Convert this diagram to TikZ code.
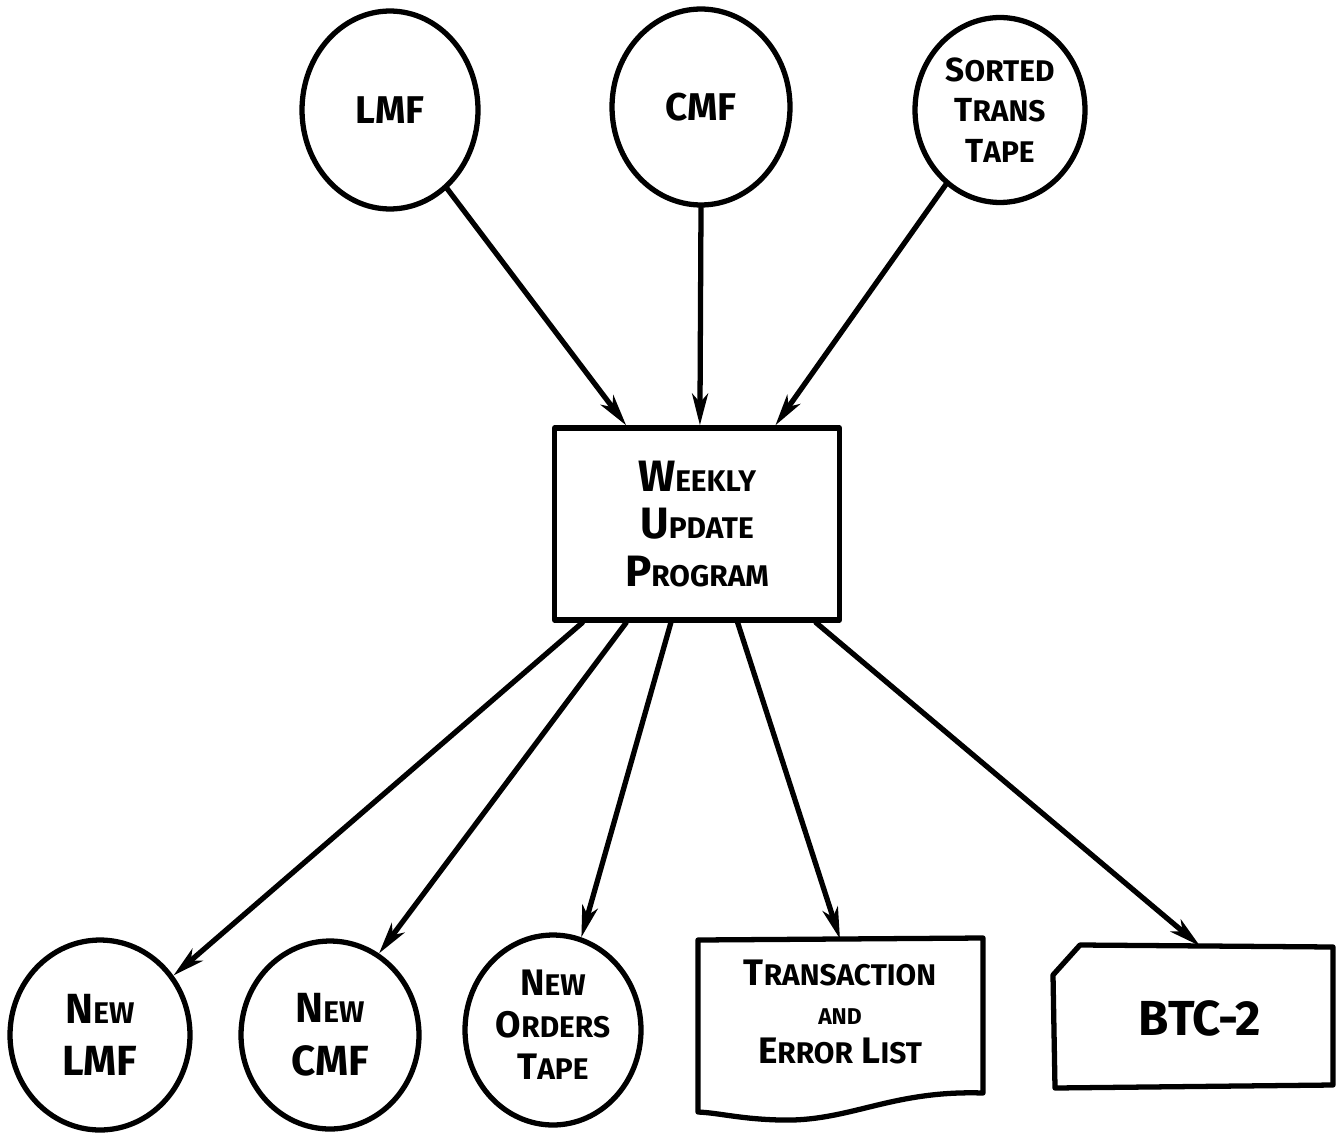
\documentclass[tikz,border=0pt]{standalone}
\usepackage{fontspec}
\setmainfont{Fira Sans}
\usetikzlibrary{shapes.geometric,arrows.meta,calc}
% smaller capitals after a large initial
\newcommand\lc[1]{{\fontsize{17pt}{20pt}\selectfont #1}}
\begin{document}
\begin{tikzpicture}[x=0.02cm,y=-0.02cm,
  ink/.style={line width=3pt,line join=round,line cap=round},
  file/.style={ink,draw,ellipse,inner sep=0pt},
  lbl/.style={font=\bfseries\fontsize{22pt}{26pt}\selectfont,align=center},
  flow/.style={ink,-{Stealth[length=18pt,width=9pt,inset=5pt]}}]
\useasboundingbox (0,0) rectangle (1338,1135);

% input files
\node[file,minimum width=3.52cm,minimum height=3.96cm] (lmf) at (390,110) {};
\node[file,minimum width=3.56cm,minimum height=3.92cm] (cmf) at (701,107) {};
\node[file,minimum width=3.40cm,minimum height=3.70cm] (stt) at (1000,110) {};
\node[lbl] at (lmf) {LMF};
\node[lbl] at (cmf) {CMF};
\node[lbl,font=\bfseries\fontsize{19pt}{23pt}\selectfont] at (stt) {S\lc{ORTED}\\T\lc{RANS}\\T\lc{APE}};

% update program
\node[ink,draw,minimum width=5.7cm,minimum height=3.84cm] (box) at (697,524) {};
\node[lbl,font=\bfseries\fontsize{25pt}{27pt}\selectfont] at (box) {W\lc{EEKLY}\\U\lc{PDATE}\\P\lc{ROGRAM}};

% output files
\node[file,minimum width=3.60cm,minimum height=3.80cm] (nlmf) at (100,1035) {};
\node[file,minimum width=3.56cm,minimum height=3.76cm] (ncmf) at (330,1035) {};
\node[file,minimum width=3.52cm,minimum height=3.80cm] (nord) at (553,1030) {};
\node[lbl,font=\bfseries\fontsize{24pt}{30pt}\selectfont] at (nlmf) {N\lc{EW}\\LMF};
\node[lbl,font=\bfseries\fontsize{24pt}{30pt}\selectfont] at (ncmf) {N\lc{EW}\\CMF};
\node[lbl,font=\bfseries\fontsize{21pt}{24pt}\selectfont] at (553,1025) {N\lc{EW}\\O\lc{RDERS}\\T\lc{APE}};

% printed report
\draw[ink] (698,940) -- (983,938) -- (983,1093)
  .. controls (890,1090) and (850,1122) .. (780,1120)
  .. controls (740,1119) and (720,1113) .. (698,1112) -- cycle;
\coordinate (doctop) at (840,939);
\node[lbl,font=\bfseries\fontsize{21pt}{22pt}\selectfont] (doc) at (840,1012)
  {T\lc{RANSACTION}\\{\fontsize{13pt}{14pt}\selectfont AND}\\E\lc{RROR} L\lc{IST}};

% punched card
\draw[ink] (1053,975) -- (1080,945) -- (1333,947) -- (1333,1085) -- (1055,1088) -- cycle;
\coordinate (cardtop) at (1200,946);
\node[lbl,font=\bfseries\fontsize{28pt}{30pt}\selectfont] (card) at (1200,1018) {BTC-2};

% data flow
\draw[flow] (lmf.-54) -- ($(box.north west)!0.256!(box.north east)$);
\draw[flow] (cmf.south) -- ($(box.north west)!0.51!(box.north east)$);
\draw[flow] (stt.-126) -- ($(box.north west)!0.77!(box.north east)$);
\draw[flow] ($(box.south west)!0.105!(box.south east)$) -- (nlmf.39);
\draw[flow] ($(box.south west)!0.256!(box.south east)$) -- (ncmf.59);
\draw[flow] ($(box.south west)!0.41!(box.south east)$) -- (nord.73);
\draw[flow] ($(box.south west)!0.64!(box.south east)$) -- (doctop);
\draw[flow] ($(box.south west)!0.91!(box.south east)$) -- (cardtop);
\end{tikzpicture}
\end{document}
